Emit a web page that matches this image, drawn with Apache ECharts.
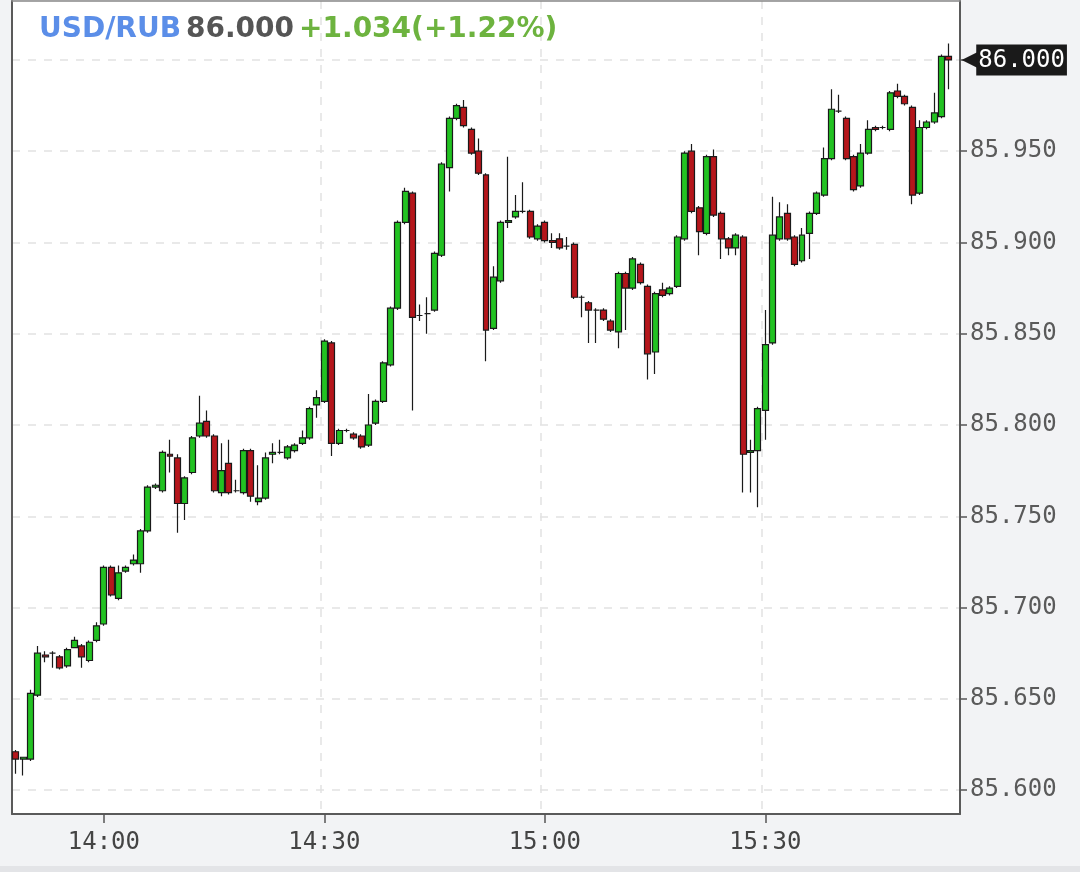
<!DOCTYPE html>
<html>
<head>
<meta charset="utf-8">
<script src="https://cdn.jsdelivr.net/npm/echarts@6/dist/echarts.min.js"></script>
<style>
html,body{margin:0;padding:0;background:#f2f3f5;}
#chart{width:1080px;height:872px;}
</style>
</head>
<body>
<div id="chart"></div>
<script>
var categories = [
"13:48","13:49","13:50","13:51","13:52","13:53","13:54","13:55","13:56","13:57","13:58","13:59",
"14:00","14:01","14:02","14:03","14:04","14:05","14:06","14:07","14:08","14:09","14:10","14:11","14:12","14:13","14:14","14:15","14:16","14:17","14:18","14:19","14:20","14:21","14:22","14:23","14:24","14:25","14:26","14:27","14:28","14:29",
"14:30","14:31","14:32","14:33","14:34","14:35","14:36","14:37","14:38","14:39","14:40","14:41","14:42","14:43","14:44","14:45","14:46","14:47","14:48","14:49","14:50","14:51","14:52","14:53","14:54","14:55","14:56","14:57","14:58","14:59",
"15:00","15:01","15:02","15:03","15:04","15:05","15:06","15:07","15:08","15:09","15:10","15:11","15:12","15:13","15:14","15:15","15:16","15:17","15:18","15:19","15:20","15:21","15:22","15:23","15:24","15:25","15:26","15:27","15:28","15:29",
"15:30","15:31","15:32","15:33","15:34","15:35","15:36","15:37","15:38","15:39","15:40","15:41","15:42","15:43","15:44","15:45","15:46","15:47","15:48","15:49","15:50","15:51","15:52","15:53","15:54","15:55","15:56"
];
var opens = [85.621,85.617,85.617,85.652,85.674,85.675,85.673,85.668,85.678,85.679,85.671,85.682,
85.691,85.722,85.705,85.720,85.724,85.724,85.742,85.766,85.764,85.784,85.782,85.757,85.774,85.794,85.802,85.794,85.763,85.779,85.764,85.763,85.786,85.758,85.760,85.784,85.785,85.782,85.786,85.790,
85.793,85.811,85.813,85.845,85.790,85.797,85.795,85.794,85.789,85.801,85.813,85.833,85.864,85.911,85.927,85.860,85.861,85.863,85.893,85.941,
85.968,85.974,85.962,85.950,85.937,85.853,85.879,85.911,85.914,85.917,85.917,85.902,85.911,85.901,85.902,85.898,85.899,85.870,85.867,85.863,
85.863,85.857,85.851,85.883,85.875,85.888,85.876,85.840,85.874,85.872,85.876,85.902,85.950,85.919,85.905,85.947,85.916,85.902,85.897,85.903,
85.785,85.786,85.808,85.845,85.902,85.916,85.903,85.890,85.905,85.916,85.926,85.946,85.972,85.968,85.947,85.931,85.949,85.963,85.963,85.962,
85.983,85.980,85.974,85.927,85.963,85.966,85.969,86.002];
var closes = [85.617,85.618,85.653,85.675,85.673,85.675,85.667,85.677,85.682,85.673,85.681,85.690,
85.722,85.707,85.719,85.722,85.726,85.742,85.766,85.767,85.785,85.783,85.757,85.771,85.793,85.801,85.794,85.764,85.775,85.763,85.764,85.786,85.761,85.760,85.782,85.785,85.785,85.788,85.789,85.793,
85.809,85.815,85.846,85.790,85.797,85.797,85.793,85.788,85.800,85.813,85.834,85.864,85.911,85.928,85.859,85.860,85.861,85.894,85.943,85.968,
85.975,85.964,85.949,85.938,85.852,85.881,85.911,85.912,85.917,85.917,85.903,85.909,85.901,85.900,85.897,85.898,85.870,85.870,85.863,85.863,
85.858,85.852,85.883,85.875,85.891,85.878,85.839,85.872,85.871,85.875,85.903,85.949,85.917,85.906,85.947,85.915,85.902,85.897,85.904,85.784,
85.786,85.809,85.844,85.904,85.914,85.902,85.888,85.904,85.916,85.927,85.946,85.973,85.972,85.946,85.929,85.949,85.962,85.962,85.963,85.982,
85.980,85.976,85.926,85.963,85.966,85.971,86.002,86.000];
var lows = [85.609,85.608,85.616,85.651,85.670,85.667,85.666,85.667,85.678,85.667,85.670,85.681,
85.690,85.706,85.704,85.719,85.723,85.719,85.741,85.765,85.763,85.774,85.741,85.748,85.773,85.793,85.793,85.763,85.761,85.762,85.763,85.762,85.758,85.756,85.759,85.779,85.784,85.781,85.785,85.789,
85.792,85.804,85.812,85.783,85.789,85.796,85.792,85.787,85.788,85.800,85.812,85.832,85.863,85.910,85.808,85.857,85.850,85.862,85.892,85.928,
85.967,85.963,85.948,85.937,85.835,85.852,85.878,85.908,85.913,85.916,85.902,85.901,85.900,85.897,85.896,85.896,85.869,85.859,85.845,85.845,
85.857,85.851,85.842,85.852,85.874,85.877,85.825,85.828,85.870,85.871,85.875,85.901,85.916,85.893,85.904,85.914,85.891,85.893,85.893,85.763,
85.763,85.755,85.792,85.844,85.901,85.901,85.887,85.889,85.891,85.915,85.925,85.945,85.971,85.945,85.928,85.930,85.948,85.961,85.962,85.961,
85.979,85.975,85.921,85.926,85.962,85.965,85.968,85.984];
var highs = [85.622,85.618,85.655,85.679,85.676,85.676,85.674,85.678,85.684,85.680,85.682,85.692,
85.723,85.723,85.723,85.723,85.729,85.743,85.767,85.768,85.786,85.792,85.784,85.772,85.794,85.816,85.808,85.795,85.790,85.792,85.770,85.787,85.787,85.778,85.785,85.790,85.792,85.789,85.790,85.797,
85.810,85.819,85.847,85.846,85.798,85.798,85.796,85.795,85.817,85.814,85.835,85.865,85.912,85.930,85.928,85.866,85.870,85.895,85.944,85.969,
85.976,85.978,85.963,85.957,85.938,85.887,85.912,85.947,85.926,85.933,85.918,85.910,85.912,85.905,85.905,85.903,85.900,85.871,85.868,85.864,
85.864,85.858,85.884,85.884,85.892,85.889,85.877,85.873,85.878,85.876,85.904,85.950,85.954,85.920,85.948,85.951,85.917,85.903,85.905,85.904,
85.792,85.810,85.863,85.925,85.922,85.921,85.904,85.908,85.917,85.928,85.952,85.984,85.981,85.969,85.948,85.954,85.967,85.964,85.964,85.983,
85.987,85.981,85.975,85.967,85.967,85.982,86.003,86.009];
var yMin = 85.5869, yMax = 86.0323;
var lastPrice = "86.000";
var lastTime = "15:55";

var candleData = opens.map(function (o, i) { return [o, closes[i], lows[i], highs[i]]; });
var isTimeLabel = function (idx, val) { return /:(00|30)$/.test(val); };
var frame = { color: '#5a5a5a', width: 2 };

var chart = echarts.init(document.getElementById('chart'));
chart.setOption({
  backgroundColor: '#f2f3f5',
  animation: false,
  title: {
    left: 34, top: 11,
    text: '{a|USD/RUB} {b|86.000} {c|+1.034(+1.22%)}',
    textStyle: {
      rich: {
        a: { color: '#5b8ee8', fontSize: 28, fontWeight: 'bold', fontFamily: 'DejaVu Sans' },
        b: { color: '#555555', fontSize: 28, fontWeight: 'bold', fontFamily: 'DejaVu Sans' },
        c: { color: '#6db33f', fontSize: 28, fontWeight: 'bold', fontFamily: 'DejaVu Sans' }
      }
    }
  },
  grid: {
    left: 12, right: 120, top: 1, bottom: 58,
    show: true, backgroundColor: '#ffffff', borderWidth: 0
  },
  xAxis: [{
    type: 'category',
    data: categories,
    boundaryGap: true,
    axisLine: { show: true, onZero: false, lineStyle: frame },
    axisTick: { show: true, alignWithLabel: true, interval: isTimeLabel, length: 9, lineStyle: { color: '#555', width: 1.5 } },
    axisLabel: { interval: isTimeLabel, color: '#444', fontSize: 24, fontFamily: 'DejaVu Sans Mono', margin: 17 },
    splitLine: { show: true, interval: isTimeLabel, showMinLine: false, showMaxLine: false, lineStyle: { color: '#e2e2e2', type: [8, 8], width: 1.5 } }
  }, {
    type: 'category',
    data: categories,
    position: 'top',
    axisLine: { show: true, onZero: false, lineStyle: { color: '#888', width: 1.5 } },
    axisTick: { show: false }, axisLabel: { show: false }, splitLine: { show: false }
  }],
  yAxis: [{
    type: 'value',
    position: 'right',
    min: yMin, max: yMax,
    splitNumber: 9,
    scale: true,
    axisLine: { show: true, onZero: false, lineStyle: frame },
    axisTick: { show: true, length: 7, lineStyle: { color: '#555', width: 1.5 } },
    axisLabel: {
      showMinLabel: false, showMaxLabel: false,
      color: '#5a5a5a', fontSize: 24, fontFamily: 'DejaVu Sans Mono', margin: 10,
      formatter: function (v) { var s = v.toFixed(3); return s === lastPrice ? '' : s; }
    },
    splitLine: { show: true, showMinLine: false, showMaxLine: false, lineStyle: { color: '#e2e2e2', type: [8, 8], width: 1.5 } }
  }, {
    type: 'value',
    position: 'left',
    min: yMin, max: yMax,
    axisLine: { show: true, onZero: false, lineStyle: frame },
    axisTick: { show: false }, axisLabel: { show: false }, splitLine: { show: false }
  }],
  series: [{
    type: 'candlestick',
    data: candleData,
    barWidth: '88%',
    itemStyle: {
      color: '#22c222', color0: '#b5161b',
      borderColor: '#1a1a1a', borderColor0: '#1a1a1a', borderWidth: 1.2
    }
  }, {
    type: 'scatter',
    data: [[lastTime, Number(lastPrice)]],
    symbolSize: 1,
    itemStyle: { color: 'rgba(0,0,0,0)', opacity: 1 },
    clip: false,
    z: 20,
    silent: true,
    label: {
      show: true, position: 'right', distance: 12,
      formatter: '{a|◀}{b|' + lastPrice + '}',
      rich: {
        a: { color: '#1a1a1a', fontSize: 27, fontFamily: 'DejaVu Sans', padding: [0, -6, 0, 0] },
        b: { color: '#ffffff', backgroundColor: '#1a1a1a', fontSize: 24, fontFamily: 'DejaVu Sans Mono', padding: [4, 2, 3, 2] }
      }
    }
  }],
  graphic: [{ type: 'rect', shape: { x: 0, y: 866, width: 1080, height: 6 }, style: { fill: '#e3e4e7' } }]
});
</script>
</body>
</html>
